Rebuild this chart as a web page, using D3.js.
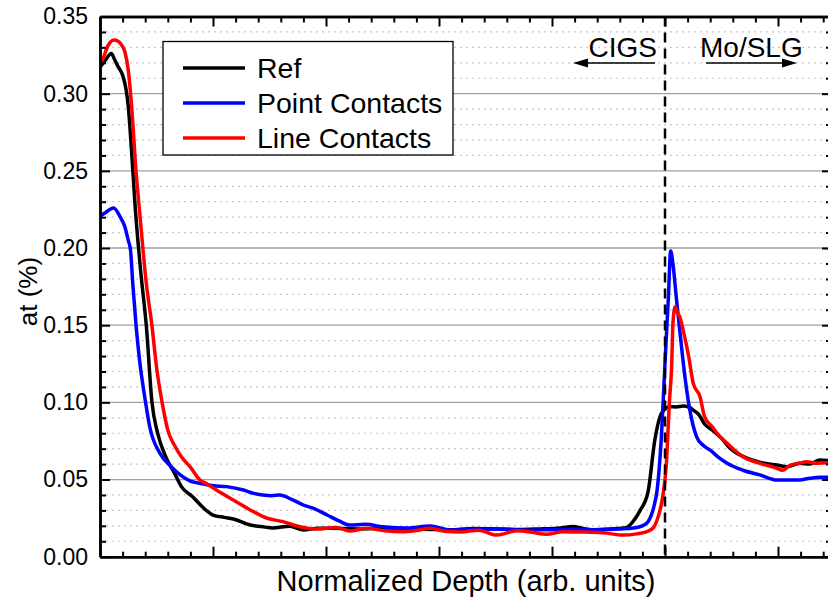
<!DOCTYPE html>
<html>
<head>
  <meta charset="utf-8">
  <title>Depth profile</title>
  <script src="https://d3js.org/d3.v7.min.js"></script>
  <style>
    body { margin: 0; background: #fff; }
    text { font-family: Arial, 'Liberation Sans', sans-serif; fill: #000; }
  </style>
</head>
<body>
<div id="chart"></div>
<script>
  // valores: [profundidade normalizada, at (%)]
  let refData = [
    [0.00,0.317],[0.05,0.322],[0.10,0.326],[0.13,0.322],[0.16,0.3175],[0.20,0.312],[0.23,0.303],
    [0.25,0.292],[0.28,0.262],[0.31,0.228],[0.36,0.185],[0.41,0.1495],[0.46,0.100],[0.51,0.080],
    [0.58,0.065],[0.66,0.054],[0.72,0.0454],[0.82,0.0389],[0.91,0.032],[1.00,0.027],[1.10,0.0255],
    [1.18,0.0244],[1.33,0.0205],[1.43,0.0195],[1.53,0.0186],[1.68,0.0198],[1.80,0.0173],[1.93,0.0185],
    [2.06,0.0184],[2.30,0.018],[2.50,0.0185],[2.65,0.018],[2.85,0.0178],[3.10,0.0175],[3.30,0.0182],
    [3.54,0.018],[3.70,0.0176],[3.89,0.018],[4.05,0.0185],[4.19,0.0195],[4.34,0.0175],[4.51,0.018],
    [4.66,0.019],[4.73,0.024],[4.78,0.030],[4.85,0.042],[4.91,0.0756],[4.97,0.093],[5.04,0.0972],
    [5.10,0.097],[5.16,0.0976],[5.21,0.097],[5.25,0.095],[5.30,0.092],[5.35,0.086],[5.42,0.082],
    [5.50,0.0767],[5.58,0.070],[5.69,0.065],[5.78,0.0625],[5.88,0.0605],[5.99,0.0594],[6.08,0.0583],
    [6.19,0.0605],[6.28,0.060],[6.37,0.0627],[6.48,0.062]
  ];
  let pointData = [
    [0.00,0.2206],[0.05,0.223],[0.12,0.226],[0.18,0.220],[0.22,0.2138],[0.25,0.205],[0.27,0.1987],
    [0.29,0.177],[0.32,0.149],[0.35,0.1274],[0.40,0.1015],[0.44,0.0842],[0.53,0.067],[0.63,0.0583],
    [0.71,0.053],[0.80,0.049],[0.88,0.0476],[1.00,0.046],[1.12,0.0454],[1.27,0.0432],[1.36,0.041],
    [1.44,0.040],[1.52,0.0395],[1.59,0.040],[1.70,0.037],[1.80,0.0335],[1.90,0.031],[2.01,0.027],
    [2.12,0.023],[2.21,0.0205],[2.35,0.021],[2.50,0.0194],[2.72,0.0186],[2.92,0.0199],[3.10,0.0173],
    [3.30,0.018],[3.54,0.018],[3.75,0.0172],[3.98,0.0175],[4.20,0.0178],[4.42,0.0175],[4.60,0.018],
    [4.72,0.0186],[4.80,0.020],[4.85,0.0227],[4.90,0.032],[4.93,0.043],[4.97,0.080],[5.00,0.1255],
    [5.03,0.168],[5.05,0.198],[5.07,0.190],[5.10,0.168],[5.13,0.147],[5.18,0.1145],[5.22,0.095],
    [5.28,0.0777],[5.34,0.072],[5.40,0.069],[5.48,0.064],[5.55,0.0605],[5.69,0.056],[5.84,0.053],
    [5.99,0.0497],[6.10,0.0497],[6.19,0.0497],[6.28,0.0508],[6.37,0.0514],[6.48,0.0514]
  ];
  let lineData = [
    [0.00,0.320],[0.02,0.3217],[0.07,0.331],[0.12,0.3348],[0.16,0.334],[0.19,0.3316],[0.22,0.3272],
    [0.25,0.3153],[0.28,0.2916],[0.32,0.2486],[0.35,0.224],[0.41,0.177],[0.46,0.1495],[0.50,0.123],
    [0.55,0.0998],[0.60,0.082],[0.66,0.072],[0.72,0.0648],[0.80,0.058],[0.88,0.050],[0.95,0.047],
    [1.03,0.0432],[1.18,0.0367],[1.33,0.0303],[1.48,0.0249],[1.62,0.0227],[1.77,0.0194],[1.92,0.0179],
    [2.09,0.019],[2.21,0.0166],[2.36,0.0184],[2.52,0.0168],[2.68,0.0162],[2.80,0.017],[2.92,0.0184],
    [3.05,0.0165],[3.19,0.016],[3.35,0.0172],[3.51,0.014],[3.69,0.0168],[3.82,0.0158],[3.95,0.0145],
    [4.10,0.0162],[4.25,0.016],[4.45,0.0155],[4.63,0.014],[4.75,0.0148],[4.84,0.0162],[4.90,0.019],
    [4.93,0.0238],[4.98,0.039],[5.01,0.058],[5.04,0.1015],[5.06,0.1253],[5.07,0.151],[5.09,0.162],
    [5.11,0.158],[5.13,0.1555],[5.16,0.147],[5.21,0.1296],[5.25,0.1123],[5.31,0.1037],[5.35,0.0907],
    [5.42,0.084],[5.46,0.080],[5.55,0.0735],[5.69,0.0648],[5.84,0.0605],[5.99,0.0573],[6.04,0.056],
    [6.11,0.0594],[6.19,0.0605],[6.25,0.0616],[6.35,0.0605],[6.48,0.061]
  ];

  let seriesNames = ['Ref', 'Point Contacts', 'Line Contacts'];
  let seriesColors = ['#000000', '#0000ff', '#ff0000'];
  let yMajorTicks = [0, 0.05, 0.10, 0.15, 0.20, 0.25, 0.30, 0.35];
  let interfaceDepth = 5;
  let regionLabels = ['CIGS', 'Mo/SLG'];

  let margin = {top: 16.5, left: 100};
  let w = 732, h = 540.2;

  let svg = d3.select('#chart')
    .append('svg')
      .attr('width', 828)
      .attr('height', 597)
    .append('g')
      .attr('transform', `translate(${margin.left},${margin.top})`);

  let xScale = d3.scaleLinear().domain([0, w / 113]).range([0, w]);
  let yScale = d3.scaleLinear().domain([0, 0.35]).range([h, 0]);

  svg.append('clipPath').attr('id', 'clip')
    .append('rect').attr('width', w).attr('height', h);

  // grade: 0.01 pontilhada, 0.05 cinza
  let gridVals = d3.range(1, 35).map(i => i / 100);
  svg.append('g').selectAll('line')
    .data(gridVals)
    .enter()
    .append('line')
    .attr('x1', 0).attr('x2', w)
    .attr('y1', d => yScale(d)).attr('y2', d => yScale(d))
    .attr('stroke', (d, i) => (i + 1) % 5 === 0 ? '#a0a0a0' : '#c8c8c8')
    .attr('stroke-width', (d, i) => (i + 1) % 5 === 0 ? 1.3 : 1.2)
    .attr('stroke-dasharray', (d, i) => (i + 1) % 5 === 0 ? null : '2,4');

  // curvas
  let line = d3.line()
    .x(d => xScale(d[0]))
    .y(d => yScale(d[1]))
    .curve(d3.curveMonotoneX);

  let allSeries = [refData, pointData, lineData];
  svg.append('g').attr('clip-path', 'url(#clip)')
    .selectAll('path')
    .data(allSeries)
    .enter()
    .append('path')
    .attr('d', line)
    .attr('fill', 'none')
    .attr('stroke', (d, i) => seriesColors[i])
    .attr('stroke-width', 3.5)
    .attr('stroke-linejoin', 'round');

  // linha tracejada da interface
  svg.append('line')
    .attr('x1', xScale(interfaceDepth)).attr('x2', xScale(interfaceDepth))
    .attr('y1', 0).attr('y2', h)
    .attr('stroke', '#000')
    .attr('stroke-width', 2.5)
    .attr('stroke-dasharray', '10,6');

  // eixos
  function styleAxis(g) {
    g.select('.domain').attr('stroke-width', 2.5);
    g.selectAll('.tick line').attr('stroke-width', 2);
    g.selectAll('.tick text').attr('font-size', '23px').attr('font-family', 'Arial, Liberation Sans, sans-serif');
  }
  let xMajor = d3.range(0, 7);
  let xMinor = d3.range(0, 33).map(i => i * 0.2).filter(v => Math.abs(v - Math.round(v)) > 1e-6);
  let yMinor = d3.range(0, 36).filter(i => i % 5 !== 0).map(i => i / 100);

  svg.append('g').attr('transform', `translate(0,${h})`)
    .call(d3.axisBottom(xScale).tickValues(xMinor).tickSize(-5).tickSizeOuter(0).tickFormat(''))
    .call(styleAxis);
  svg.append('g').attr('transform', `translate(0,${h})`)
    .call(d3.axisBottom(xScale).tickValues(xMajor).tickSize(-10).tickSizeOuter(0).tickFormat(''))
    .call(styleAxis);
  svg.append('g')
    .call(d3.axisTop(xScale).tickValues(xMinor).tickSize(-6).tickSizeOuter(0).tickFormat(''))
    .call(styleAxis);
  svg.append('g')
    .call(d3.axisTop(xScale).tickValues(xMajor).tickSize(-10).tickSizeOuter(0).tickFormat(''))
    .call(styleAxis);

  svg.append('g')
    .call(d3.axisLeft(yScale).tickValues(yMinor).tickSize(-6).tickSizeOuter(0).tickFormat(''))
    .call(styleAxis);
  svg.append('g')
    .call(d3.axisLeft(yScale).tickValues(yMajorTicks).tickSize(-10).tickSizeOuter(0)
      .tickPadding(12).tickFormat(d3.format('.2f')))
    .call(styleAxis);
  svg.append('g').attr('transform', `translate(${w},0)`)
    .call(d3.axisRight(yScale).tickValues(yMinor).tickSize(-6).tickSizeOuter(0).tickFormat(''))
    .call(styleAxis);
  svg.append('g').attr('transform', `translate(${w},0)`)
    .call(d3.axisRight(yScale).tickValues(yMajorTicks).tickSize(-10).tickSizeOuter(0).tickFormat(''))
    .call(styleAxis);

  // títulos dos eixos
  svg.append('text')
    .attr('x', 366)
    .attr('y', h + 34)
    .style('text-anchor', 'middle')
    .attr('font-size', '29px')
    .text('Normalized Depth (arb. units)');
  svg.append('text')
    .attr('transform', 'rotate(-90)')
    .attr('x', -h / 2 - 5)
    .attr('y', -63)
    .style('text-anchor', 'middle')
    .attr('font-size', '26px')
    .text('at (%)');

  // anotações CIGS / Mo/SLG
  let xi = xScale(interfaceDepth);
  svg.append('text').attr('x', xi - 8).attr('y', 40)
    .style('text-anchor', 'end').attr('font-size', '28px').text(regionLabels[0]);
  svg.append('text').attr('x', xi + 35).attr('y', 40)
    .style('text-anchor', 'start').attr('font-size', '28px').text(regionLabels[1]);

  function arrow(x1, x2, y) {
    let dir = x2 > x1 ? 1 : -1;
    svg.append('line').attr('x1', x1).attr('x2', x2 - dir * 10).attr('y1', y).attr('y2', y)
      .attr('stroke', '#000').attr('stroke-width', 1.5);
    svg.append('path')
      .attr('d', `M${x2},${y} L${x2 - dir * 15},${y - 4.5} L${x2 - dir * 15},${y + 4.5} Z`)
      .attr('fill', '#000');
  }
  arrow(xi - 10, xi - 92, 46.5);
  arrow(xi + 41, xi + 132, 46.5);

  // legenda
  let legend = svg.append('g').attr('transform', 'translate(63,25)');
  legend.append('rect')
    .attr('width', 290).attr('height', 113.5)
    .attr('fill', '#fff').attr('stroke', '#000').attr('stroke-width', 1.3);
  let items = legend.selectAll('g.item')
    .data(seriesNames)
    .enter()
    .append('g')
    .attr('transform', (d, i) => `translate(0,${26.5 + i * 35})`);
  items.append('line')
    .attr('x1', 20).attr('x2', 82)
    .attr('stroke', (d, i) => seriesColors[i])
    .attr('stroke-width', 3.5);
  items.append('text')
    .attr('x', 94)
    .attr('dy', '0.35em')
    .attr('font-size', '28.5px')
    .text(d => d);
</script>
</body>
</html>
